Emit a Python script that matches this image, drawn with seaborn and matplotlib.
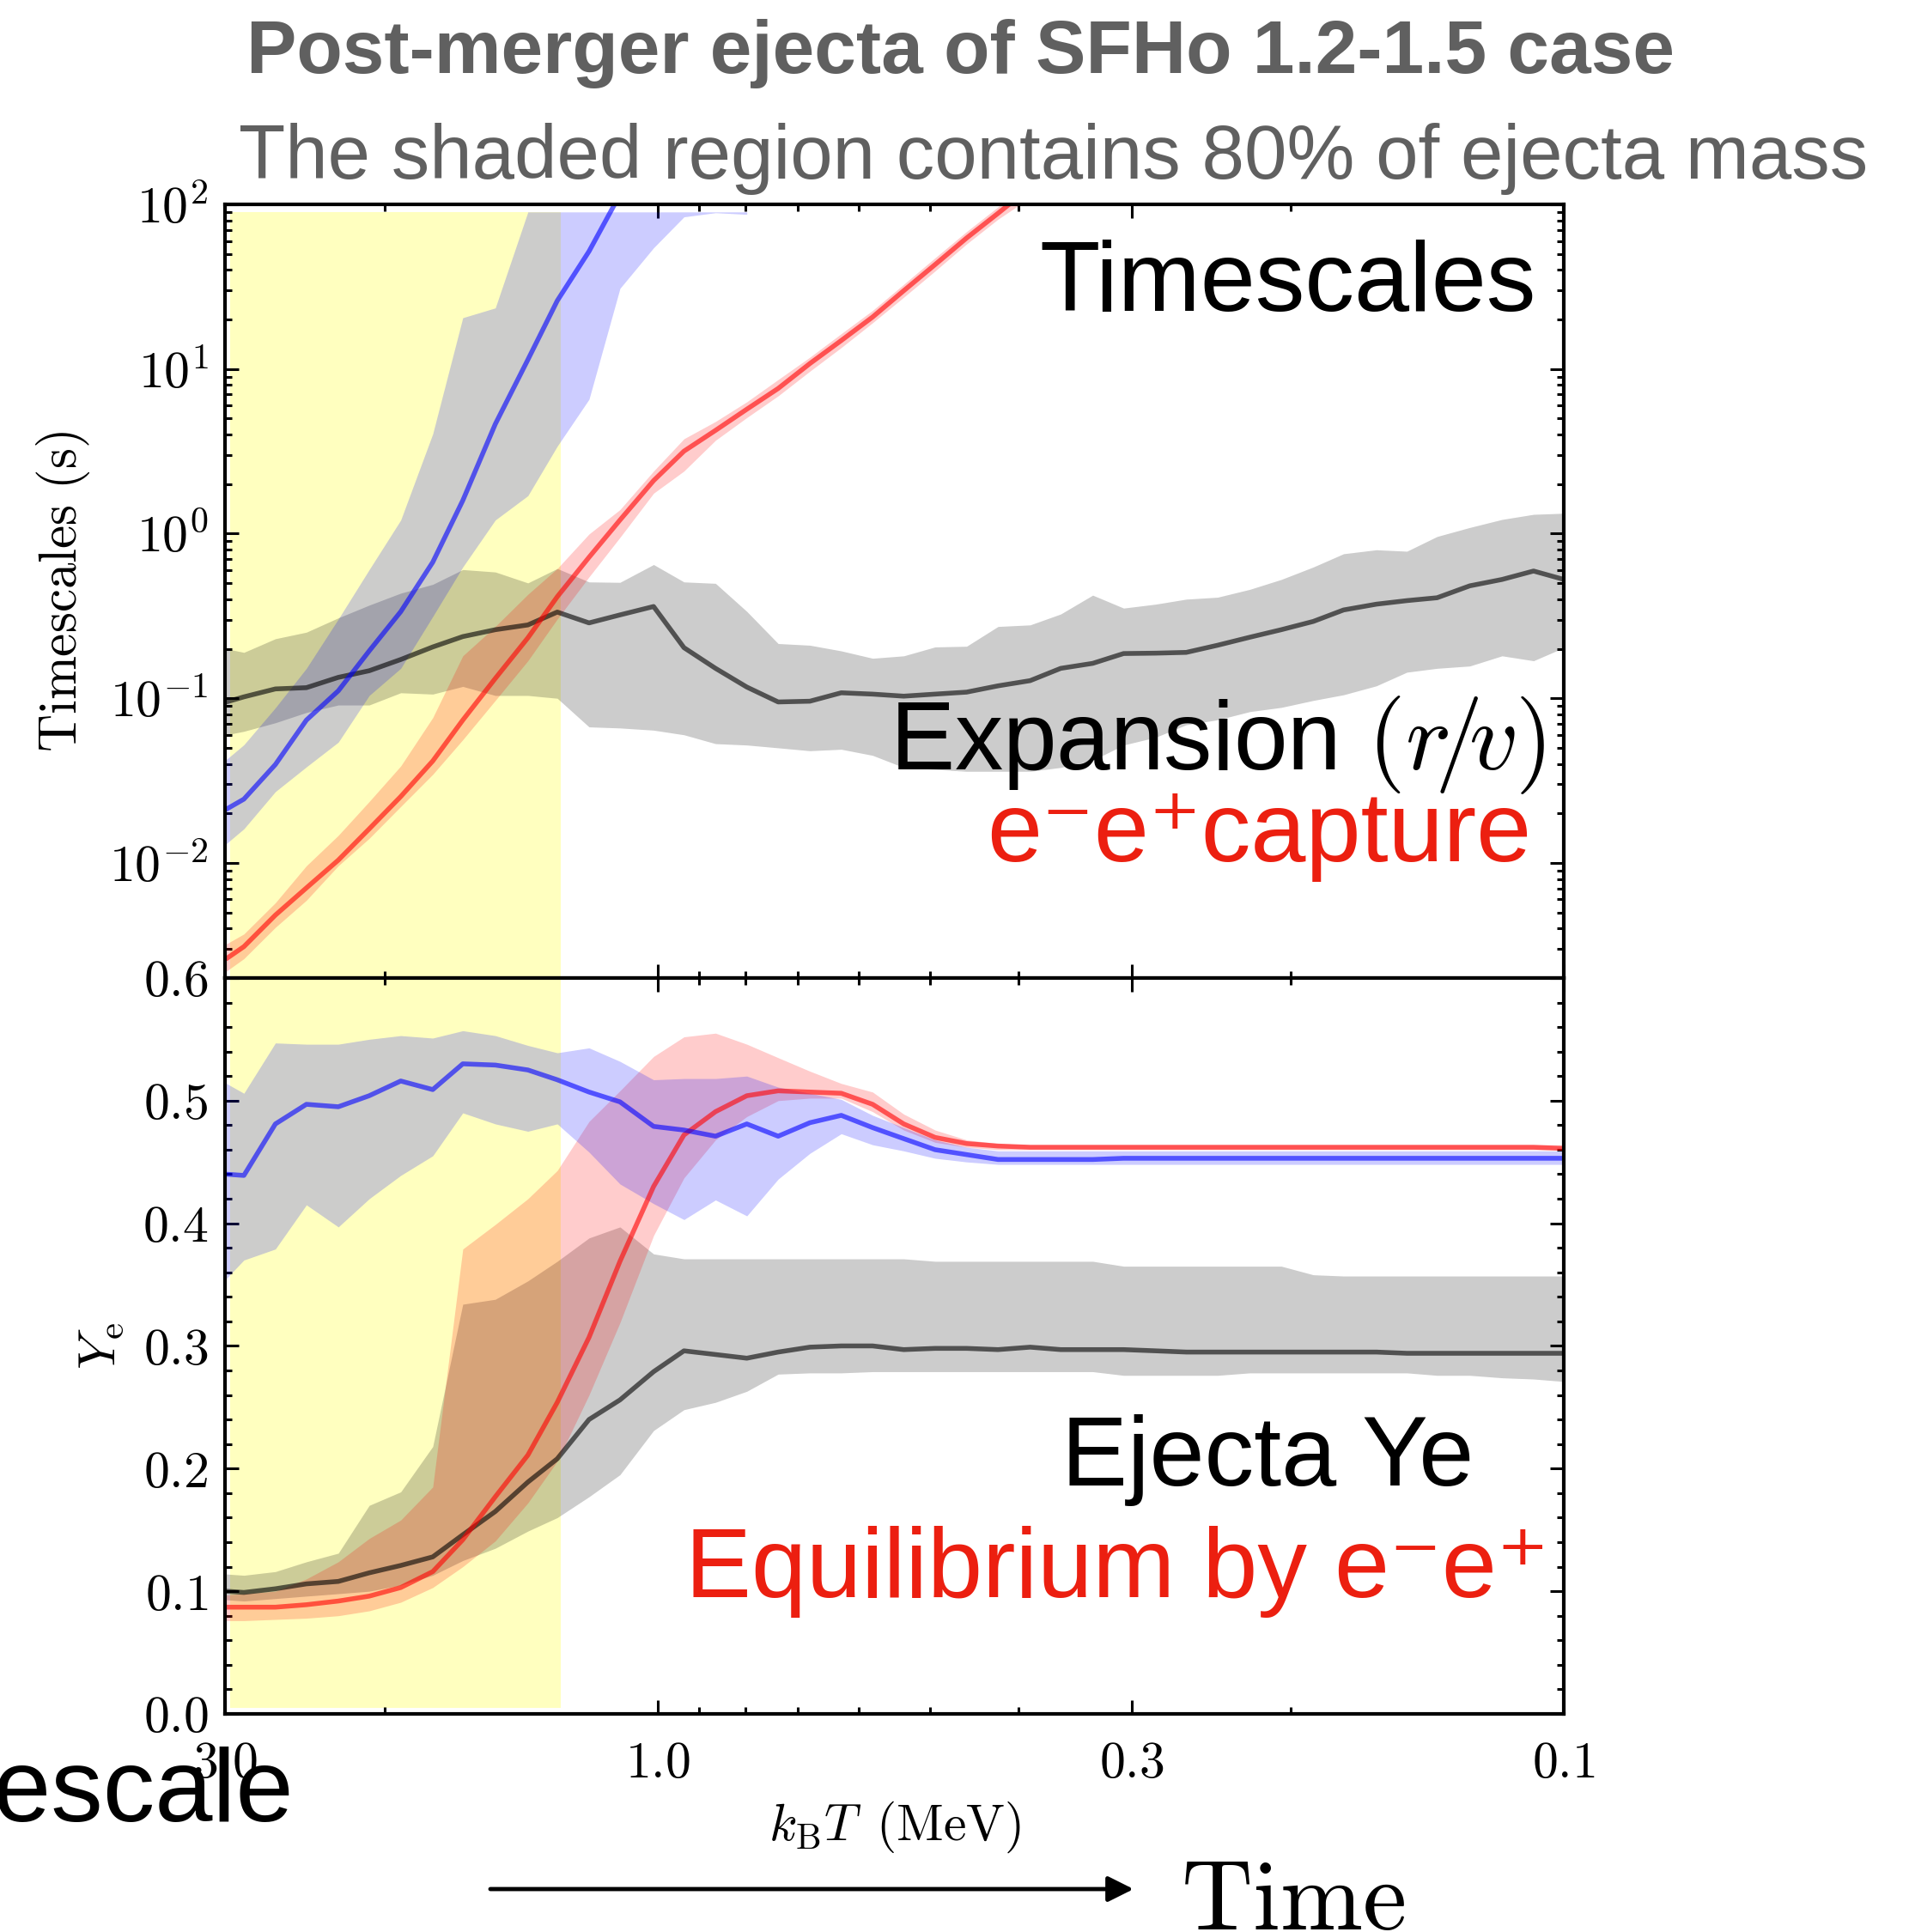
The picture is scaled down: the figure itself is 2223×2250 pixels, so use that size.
import numpy as np
import pandas as pd
import seaborn as sns
import matplotlib
matplotlib.use('Agg')
import matplotlib.pyplot as plt
from matplotlib import ticker
from matplotlib.patches import FancyArrowPatch

# ---------- data ----------
# temperature grid k_B T (MeV)
T = [2.99, 2.86, 2.64, 2.44, 2.25, 2.08, 1.92, 1.77, 1.64, 1.51, 1.39, 1.29, 1.19, 1.10,
     1.01, 0.935, 0.863, 0.797, 0.736, 0.679, 0.627, 0.579, 0.535, 0.494, 0.456, 0.421,
     0.388, 0.359, 0.331, 0.306, 0.282, 0.261, 0.241, 0.222, 0.205, 0.189, 0.175, 0.161,
     0.149, 0.138, 0.127, 0.117, 0.108, 0.100]
nan = np.nan

# timescales (s): expansion r/v
t_exp = [0.095, 0.102, 0.114, 0.116, 0.134, 0.147, 0.172, 0.205, 0.237, 0.261, 0.279, 0.334,
         0.287, 0.321, 0.361, 0.203, 0.152, 0.117, 0.095, 0.096, 0.108, 0.106, 0.103, 0.106,
         0.109, 0.119, 0.128, 0.152, 0.163, 0.187, 0.188, 0.190, 0.210, 0.235, 0.261, 0.293,
         0.344, 0.373, 0.392, 0.408, 0.482, 0.527, 0.593, 0.527]
t_exp_hi = [0.200, 0.190, 0.230, 0.252, 0.308, 0.368, 0.435, 0.492, 0.605, 0.585, 0.502, 0.614,
            0.509, 0.506, 0.649, 0.509, 0.499, 0.337, 0.215, 0.210, 0.194, 0.175, 0.181, 0.205,
            0.207, 0.273, 0.279, 0.325, 0.423, 0.353, 0.373, 0.400, 0.411, 0.459, 0.527, 0.627,
            0.755, 0.798, 0.782, 0.961, 1.09, 1.22, 1.31, 1.33]
t_exp_lo = [0.060, 0.063, 0.071, 0.082, 0.091, 0.091, 0.108, 0.106, 0.118, 0.104, 0.104, 0.100,
            0.067, 0.066, 0.064, 0.060, 0.053, 0.052, 0.050, 0.048, 0.049, 0.045, 0.038, 0.037,
            0.036, 0.036, 0.036, 0.038, 0.042, 0.052, 0.058, 0.069, 0.074, 0.083, 0.088, 0.097,
            0.105, 0.119, 0.144, 0.152, 0.157, 0.181, 0.169, 0.203]

# e-e+ capture timescale
t_cap = [0.00262, 0.00310, 0.00482, 0.00705, 0.0104, 0.0161, 0.0253, 0.0416, 0.0737, 0.132,
         0.233, 0.414, 0.719, 1.21, 2.10, 3.17, 4.24, 5.70, 7.62, 10.8, 14.9, 20.7, 29.9, 43.1,
         62.5, 88.3, 127] + [nan] * 17
t_cap_hi = [0.00322, 0.00370, 0.00573, 0.00961, 0.0147, 0.0236, 0.0388, 0.0763, 0.181, 0.273,
            0.428, 0.614, 0.995, 1.40, 2.40, 3.77, 4.80, 6.32, 8.63, 11.8, 16.4, 22.7, 32.7,
            47.4, 68.4, 96.6, 145] + [nan] * 17
t_cap_lo = [0.00220, 0.00262, 0.00406, 0.00593, 0.00961, 0.0141, 0.0220, 0.0345, 0.0560, 0.097,
            0.169, 0.303, 0.546, 0.949, 1.76, 2.40, 3.69, 5.07, 6.87, 9.70, 13.5, 19.1, 27.3,
            39.4, 57.5, 81.3, 110] + [nan] * 17

# blue timescale
t_nu = [0.0212, 0.0244, 0.0396, 0.0737, 0.111, 0.194, 0.336, 0.671, 1.59, 4.63, 11.4, 26.0,
        51.9, 115] + [nan] * 30
t_nu_hi = [0.0425, 0.0522, 0.0876, 0.152, 0.303, 0.605, 1.21, 4.04, 20.5, 23.5, 90, 90, 90, 90,
           90, 90, 90, 90] + [nan] * 26
t_nu_lo = [0.0131, 0.0161, 0.0271, 0.0383, 0.0541, 0.104, 0.152, 0.314, 0.627, 1.21, 1.70, 3.40,
           6.55, 30.9, 54.5, 84, 89, 87] + [nan] * 26

# electron fraction: ejecta Ye
ye = [0.100, 0.099, 0.102, 0.106, 0.108, 0.115, 0.121, 0.128, 0.146, 0.165, 0.189, 0.208,
      0.240, 0.256, 0.279, 0.296, 0.293, 0.290, 0.295, 0.299, 0.300, 0.300, 0.297, 0.298,
      0.298, 0.297, 0.299, 0.297, 0.297, 0.297, 0.296, 0.295, 0.295, 0.295, 0.295, 0.295,
      0.295, 0.295, 0.294, 0.294, 0.294, 0.294, 0.294, 0.294]
ye_hi = [0.114, 0.113, 0.116, 0.124, 0.131, 0.170, 0.181, 0.218, 0.334, 0.338, 0.353, 0.369,
         0.388, 0.397, 0.375, 0.371, 0.371, 0.371, 0.371, 0.371, 0.371, 0.371, 0.371, 0.369,
         0.369, 0.369, 0.369, 0.369, 0.369, 0.365, 0.365, 0.365, 0.365, 0.365, 0.365, 0.358,
         0.357, 0.357, 0.357, 0.357, 0.357, 0.357, 0.357, 0.357]
ye_lo = [0.093, 0.092, 0.094, 0.096, 0.098, 0.100, 0.105, 0.113, 0.125, 0.135, 0.149, 0.160,
         0.177, 0.195, 0.231, 0.248, 0.254, 0.263, 0.277, 0.278, 0.278, 0.279, 0.279, 0.279,
         0.279, 0.279, 0.279, 0.279, 0.279, 0.276, 0.276, 0.276, 0.276, 0.278, 0.278, 0.278,
         0.278, 0.278, 0.278, 0.276, 0.276, 0.274, 0.273, 0.271]

# equilibrium Ye by e-e+ capture
ye_eq = [0.087, 0.087, 0.087, 0.089, 0.092, 0.096, 0.103, 0.116, 0.142, 0.177, 0.211, 0.254,
         0.307, 0.369, 0.430, 0.472, 0.491, 0.504, 0.508, 0.507, 0.506, 0.497, 0.481, 0.470,
         0.465, 0.463] + [0.462] * 17 + [0.461]
ye_eq_hi = [0.097, 0.098, 0.100, 0.110, 0.124, 0.143, 0.158, 0.185, 0.379, 0.399, 0.420, 0.443,
            0.483, 0.508, 0.536, 0.552, 0.555, 0.546, 0.535, 0.524, 0.514, 0.507, 0.489, 0.476,
            0.468, 0.465] + [0.464] * 18
ye_eq_lo = [0.076, 0.076, 0.077, 0.078, 0.080, 0.084, 0.091, 0.103, 0.120, 0.141, 0.172, 0.206,
            0.260, 0.319, 0.390, 0.437, 0.468, 0.487, 0.500, 0.502, 0.502, 0.491, 0.476, 0.466,
            0.462] + [0.460] * 19

# blue Ye
ye_nu = [0.440, 0.439, 0.481, 0.497, 0.495, 0.504, 0.516, 0.509, 0.530, 0.529, 0.525, 0.517,
         0.507, 0.499, 0.479, 0.476, 0.471, 0.481, 0.471, 0.482, 0.488, 0.478, 0.469, 0.460,
         0.456, 0.452, 0.452, 0.452, 0.452] + [0.453] * 15
ye_nu_hi = [0.514, 0.506, 0.547, 0.546, 0.546, 0.550, 0.553, 0.551, 0.557, 0.553, 0.545, 0.539,
            0.543, 0.532, 0.517, 0.518, 0.518, 0.520, 0.511, 0.506, 0.501, 0.488, 0.478, 0.468,
            0.462, 0.459] + [0.459] * 18
ye_nu_lo = [0.355, 0.370, 0.379, 0.415, 0.397, 0.420, 0.439, 0.455, 0.490, 0.481, 0.475, 0.481,
            0.458, 0.432, 0.416, 0.403, 0.419, 0.406, 0.436, 0.457, 0.473, 0.464, 0.459, 0.453,
            0.450, 0.448] + [0.448] * 18

# shaded region holding 80% of ejecta mass
shade_T = [2.96, 1.28]

x_major = [3.0, 1.0, 0.3, 0.1]
x_minor = [2.0, 0.9, 0.8, 0.7, 0.6, 0.5, 0.4, 0.2]

df = pd.DataFrame({'T': T, 't_exp': t_exp, 't_cap': t_cap, 't_nu': t_nu,
                   'ye': ye, 'ye_eq': ye_eq, 'ye_nu': ye_nu})

# ---------- style ----------
sns.set_style('ticks')
plt.rcParams.update({
    'mathtext.fontset': 'cm',
    'text.color': 'black',
    'axes.labelcolor': 'black',
    'axes.edgecolor': 'black',
    'xtick.color': 'black',
    'ytick.color': 'black',
})
plt.rcParams['font.family'] = ['Liberation Sans', 'DejaVu Sans']

RED_TXT = '#ec1f10'
GRAY_TXT = '#606060'
LW = 4.0

fig = plt.figure(figsize=(22.23, 22.5), dpi=100)
ax_t = fig.add_axes([0.1179, 0.4938, 0.7013, 0.4004])
ax_b = fig.add_axes([0.1179, 0.1129, 0.7013, 0.3809])

for ax in (ax_t, ax_b):
    ax.set_xscale('log')

# ---------- top panel: timescales ----------
ax_t.fill_between(shade_T, [1e-3, 1e-3], [90, 90], color='yellow', alpha=0.25, lw=0, zorder=0)
ax_t.fill_between(T, t_exp_lo, t_exp_hi, color='k', alpha=0.2, lw=0)
ax_t.fill_between(T, t_cap_lo, t_cap_hi, color='red', alpha=0.2, lw=0)
ax_t.fill_between(T, t_nu_lo, t_nu_hi, color='blue', alpha=0.2, lw=0)
sns.lineplot(data=df, x='T', y='t_exp', ax=ax_t, color='k', alpha=0.6, linewidth=LW)
sns.lineplot(data=df, x='T', y='t_cap', ax=ax_t, color='red', alpha=0.6, linewidth=LW)
sns.lineplot(data=df, x='T', y='t_nu', ax=ax_t, color='blue', alpha=0.6, linewidth=LW)
ax_t.set_yscale('log')
ax_t.set_ylim(2e-3, 1e2)

# ---------- bottom panel: Ye ----------
ax_b.fill_between(shade_T, [0.005, 0.005], [0.7, 0.7], color='yellow', alpha=0.25, lw=0, zorder=0)
ax_b.fill_between(T, ye_lo, ye_hi, color='k', alpha=0.2, lw=0)
ax_b.fill_between(T, ye_eq_lo, ye_eq_hi, color='red', alpha=0.2, lw=0)
ax_b.fill_between(T, ye_nu_lo, ye_nu_hi, color='blue', alpha=0.2, lw=0)
sns.lineplot(data=df, x='T', y='ye', ax=ax_b, color='k', alpha=0.6, linewidth=LW)
sns.lineplot(data=df, x='T', y='ye_eq', ax=ax_b, color='red', alpha=0.6, linewidth=LW)
sns.lineplot(data=df, x='T', y='ye_nu', ax=ax_b, color='blue', alpha=0.6, linewidth=LW)
ax_b.set_ylim(0, 0.6)

# ---------- axes / ticks ----------
for ax in (ax_t, ax_b):
    ax.set_xlim(3.0, 0.1)
    ax.xaxis.set_major_locator(ticker.FixedLocator(x_major))
    ax.xaxis.set_minor_locator(ticker.FixedLocator(x_minor))
    ax.xaxis.set_major_formatter(ticker.FuncFormatter(lambda v, p: r'$%.1f$' % v))
    ax.xaxis.set_minor_formatter(ticker.NullFormatter())
    ax.tick_params(which='both', direction='in', top=True, right=True, width=2.2,
                   labelsize=43, color='k', labelcolor='k')
    ax.tick_params(which='major', length=11.5)
    ax.tick_params(which='minor', length=5.5)
    ax.tick_params(axis='x', pad=22)
    ax.tick_params(axis='y', pad=14)
    for s in ax.spines.values():
        s.set_linewidth(3)
        s.set_color('k')

ax_t.tick_params(labelbottom=False)
ax_t.yaxis.set_major_locator(ticker.LogLocator(base=10, numticks=10))
ax_t.yaxis.set_minor_locator(ticker.LogLocator(base=10, subs=np.arange(2, 10), numticks=20))
ax_t.yaxis.set_major_formatter(ticker.FuncFormatter(lambda v, p: r'$10^{%d}$' % round(np.log10(v))))
ax_t.yaxis.set_minor_formatter(ticker.NullFormatter())

ax_b.yaxis.set_major_locator(ticker.MultipleLocator(0.1))
ax_b.yaxis.set_minor_locator(ticker.MultipleLocator(0.02))
ax_b.yaxis.set_major_formatter(ticker.FuncFormatter(lambda v, p: r'$%.1f$' % v))

ax_t.set_xlabel('')
ax_t.set_ylabel(r'$\mathrm{Timescales\ (s)}$', fontsize=44, labelpad=14, color='k')
ax_b.set_ylabel(r'$Y_\mathrm{e}$', fontsize=44, labelpad=14, color='k')
ax_b.set_xlabel(r'$k_\mathrm{B}T\ \,\mathrm{(MeV)}$', fontsize=43, labelpad=10, color='k')

# ---------- annotations ----------
FS = 83
ax_t.text(0.979, 0.862, 'Timescales', transform=ax_t.transAxes, ha='right', va='baseline',
          fontsize=FS, color='k')
ax_t.text(0.986, 0.270, r'Expansion $(r\!/\!v)$', transform=ax_t.transAxes, ha='right',
          va='baseline', fontsize=81, color='k')
ax_t.text(0.976, 0.151, 'e\u207be\u207acapture', transform=ax_t.transAxes, ha='right', va='baseline',
          fontsize=FS, color=RED_TXT)
ax_b.text(0.933, 0.310, 'Ejecta Ye', transform=ax_b.transAxes, ha='right', va='baseline',
          fontsize=FS, color='k')
ax_b.text(0.989, 0.159, 'Equilibrium by e\u207be\u207a', transform=ax_b.transAxes, ha='right',
          va='baseline', fontsize=FS, color=RED_TXT)

W, H = 2223, 2250
fig.text(0.503, 1 - 85 / H, 'Post-merger ejecta of SFHo 1.2-1.5 case', ha='center', va='baseline',
         fontsize=63, color=GRAY_TXT, fontweight='bold')
fig.text(0.552, 1 - 208 / H, 'The shaded region contains 80% of ejecta mass', ha='center',
         va='baseline', fontsize=64, color=GRAY_TXT)
fig.text(342 / W, 1 - 2121 / H, 'Timescale', ha='right', va='baseline', fontsize=87, color='k')
fig.text(1375 / W, 1 - 2247 / H, r'$\mathrm{Time}$', ha='left', va='baseline', fontsize=83, color='k')

arrow = FancyArrowPatch((571 / W, 1 - 2200 / H), (1320 / W, 1 - 2200 / H), transform=fig.transFigure,
                        arrowstyle='-|>', mutation_scale=45, lw=3.5, color='k',
                        shrinkA=0, shrinkB=0)
fig.add_artist(arrow)

fig.savefig('out.png', dpi=100)
